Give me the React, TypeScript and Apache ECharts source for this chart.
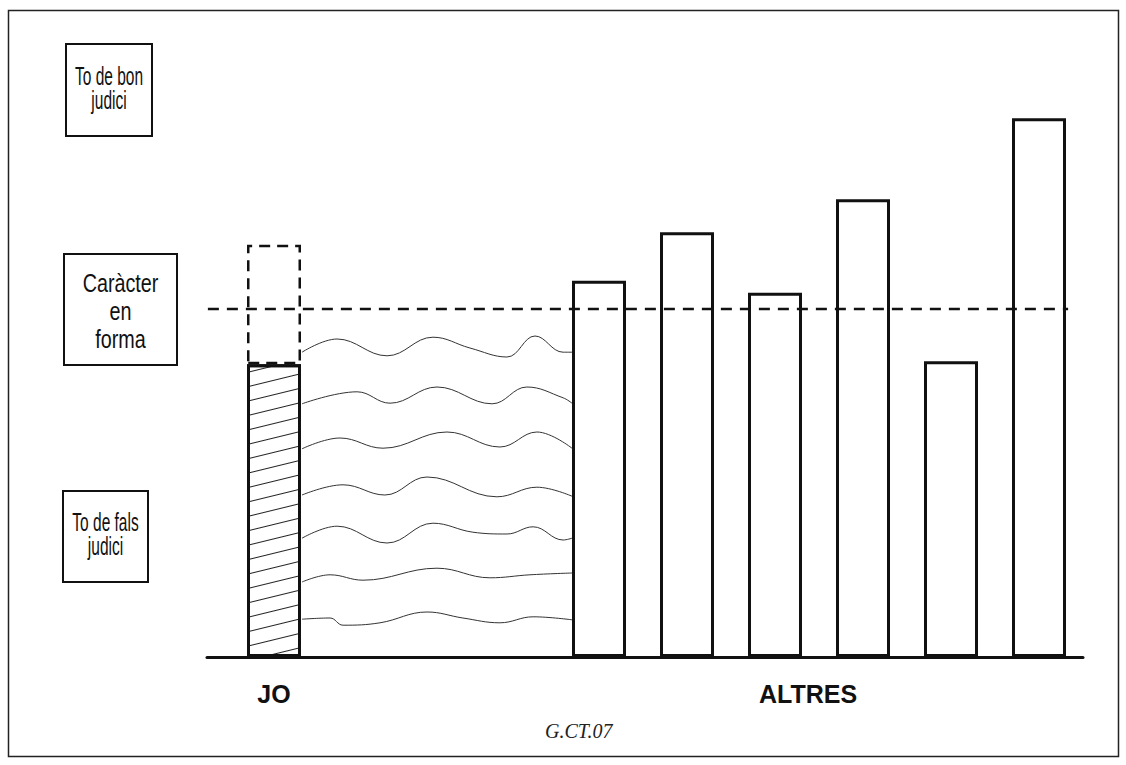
import React, { useEffect, useRef } from "react";
import * as echarts from "echarts";

// ---------- data ----------
const boxLabels = ["To de bon\njudici", "Caràcter\nen\nforma", "To de fals\njudici"];
const joCategory = ["JO"];
const joValue = [48.8];
const joIdeal = [68.7];
const altresCategories = ["A1", "A2", "A3", "A4", "A5", "A6"];
const altresValues = [62.7, 70.8, 60.7, 76.3, 49.3, 89.8];
const thresholdValue = 58;
const groupNames = ["JO", "ALTRES"];
const sourceNote = "G.CT.07";

// wavy "noise" lines between JO and ALTRES (x: 0..100 across the gap, y: same scale as bars)
const wave1 = [[0, 50.8], [13, 53.0], [31.5, 50.2], [48.5, 53.3], [62.2, 51.5], [75.9, 50.0], [86.3, 53.5], [96.7, 50.8], [100, 50.8]];
const wave2 = [[0, 42.2], [20.4, 44.2], [32.6, 42.3], [50, 45.0], [70.4, 42.2], [83.3, 45.0], [96.7, 43.2], [100, 42.3]];
const wave3 = [[0, 34.7], [14.1, 36.5], [30, 34.8], [53.7, 37.5], [73.3, 35.0], [87, 37.5], [100, 34.8]];
const wave4 = [[0, 27.0], [15.2, 28.7], [30.7, 27.0], [46.3, 30.0], [72.2, 26.7], [87, 28.3], [100, 26.8]];
const wave5 = [[0, 19.8], [13, 21.8], [31.5, 19.0], [48.5, 22.3], [63.3, 20.8], [75.9, 20.5], [85.6, 21.7], [96.7, 19.5], [100, 19.8]];
const wave6 = [[0, 12.5], [10.4, 13.7], [22.6, 12.8], [50, 14.8], [69.6, 13.2], [84.4, 13.7], [100, 14.0]];
const wave7 = [[0, 6.3], [10.4, 6.5], [15.2, 5.3], [28.9, 5.7], [46.3, 7.5], [59.6, 6.5], [73.3, 5.7], [85.6, 6.7], [100, 6.2]];
const waves = [wave1, wave2, wave3, wave4, wave5, wave6, wave7];

// ---------- layout ----------
const W = 1126;
const H = 765;
const TOP = 57;
const BOTTOM = 108;
const INK = "#111";
const SANS = "Liberation Sans, Arial, Helvetica, sans-serif";
const thresholdSpan = [0.1, 98.3];

function labelBox(x: number, y: number, w: number, h: number, text: string, fontSize: number, lineHeight: number, scaleX: number, cy: number) {
  return {
    type: "group",
    children: [
      { type: "rect", shape: { x, y, width: w, height: h }, style: { fill: "#fff", stroke: INK, lineWidth: 2 } },
      {
        type: "text",
        x: x + w / 2,
        y: cy,
        scaleX,
        style: {
          text,
          fontSize,
          lineHeight,
          fontFamily: SANS,
          fill: INK,
          align: "center",
          verticalAlign: "middle",
          textAlign: "center",
          textVerticalAlign: "middle",
        },
      },
    ],
  };
}

export default function App() {
  const ref = useRef<HTMLDivElement>(null);

  useEffect(() => {
    if (!ref.current) return;
    const chart = echarts.init(ref.current, null, { renderer: "svg" });

    const yHidden = (gridIndex: number) => ({ type: "value", gridIndex, min: 0, max: 100, show: false });

    const option: any = {
      animation: false,
      backgroundColor: "#fff",
      grid: [
        { left: 207, right: W - 1083, top: TOP, bottom: BOTTOM, containLabel: false },
        { left: 246, right: W - 302, top: TOP, bottom: BOTTOM, containLabel: false },
        { left: 555, right: W - 1083, top: TOP, bottom: BOTTOM, containLabel: false },
        { left: 302, right: W - 572, top: TOP, bottom: BOTTOM, containLabel: false },
      ],
      xAxis: [
        {
          type: "value",
          gridIndex: 0,
          min: 0,
          max: 100,
          axisLine: { show: true, lineStyle: { color: INK, width: 3 } },
          axisTick: { show: false },
          axisLabel: { show: false },
          splitLine: { show: false },
        },
        {
          type: "category",
          gridIndex: 1,
          data: joCategory,
          axisLine: { show: false },
          axisTick: { show: false },
          axisLabel: {
            show: true,
            formatter: () => groupNames[0],
            color: INK,
            fontFamily: SANS,
            fontWeight: "bold",
            fontSize: 25,
            lineHeight: 25,
            margin: 24,
          },
        },
        {
          type: "category",
          gridIndex: 2,
          data: altresCategories,
          axisLine: { show: false },
          axisTick: { show: false },
          axisLabel: { show: false },
          name: groupNames[1],
          nameLocation: "middle",
          nameGap: 24,
          nameTextStyle: {
            color: INK,
            fontFamily: SANS,
            fontWeight: "bold",
            fontSize: 25,
            lineHeight: 25,
            padding: [0, 22, 0, 0],
          },
        },
        { type: "value", gridIndex: 3, min: 0, max: 100, show: false },
      ],
      yAxis: [yHidden(0), yHidden(1), yHidden(2), yHidden(3)],
      title: {
        text: sourceNote,
        left: 540,
        top: 716,
        textStyle: { fontFamily: "Liberation Serif, Times New Roman, serif", fontStyle: "italic", fontWeight: "normal", fontSize: 20, color: "#222" },
      },
      graphic: [
        {
          type: "rect",
          silent: true,
          z: -10,
          shape: { x: 8.5, y: 10.5, width: 1110, height: 746 },
          style: { fill: "none", stroke: "#222", lineWidth: 1.5 },
        },
        labelBox(66, 44, 86, 92, boxLabels[0], 25, 24, 0.62, 88),
        labelBox(64, 254, 113, 111, boxLabels[1], 26, 28, 0.76, 311),
        labelBox(63, 491, 85, 91, boxLabels[2], 25, 24, 0.62, 534),
      ],
      series: [
        {
          type: "bar",
          name: "JO",
          xAxisIndex: 1,
          yAxisIndex: 1,
          stack: "jo",
          barWidth: 54,
          data: joValue,
          itemStyle: {
            color: "#fff",
            borderColor: INK,
            borderWidth: 3,
            decal: {
              symbol: "rect",
              symbolSize: 1,
              color: "#222",
              backgroundColor: "#fff",
              dashArrayX: [1, 0],
              dashArrayY: [1, 13],
              rotation: -0.24,
            },
          },
        },
        {
          type: "bar",
          name: "JO ideal",
          xAxisIndex: 1,
          yAxisIndex: 1,
          stack: "jo",
          barWidth: 54,
          data: joIdeal.map((v, i) => v - joValue[i]),
          itemStyle: { color: "rgba(0,0,0,0)", borderColor: INK, borderWidth: 2.5, borderType: [11, 7] },
        },
        ...waves.map((w, i) => ({
          type: "line",
          name: "wave" + (i + 1),
          xAxisIndex: 3,
          yAxisIndex: 3,
          data: w,
          smooth: 0.4,
          symbol: "none",
          lineStyle: { color: "#333", width: 1 },
        })),
        {
          type: "bar",
          name: "ALTRES",
          xAxisIndex: 2,
          yAxisIndex: 2,
          barWidth: 54,
          data: altresValues,
          itemStyle: { color: "#fff", borderColor: INK, borderWidth: 3 },
        },
        {
          type: "line",
          name: "threshold",
          xAxisIndex: 0,
          yAxisIndex: 0,
          z: 5,
          data: thresholdSpan.map((x) => [x, thresholdValue]),
          symbol: "none",
          lineStyle: { color: INK, width: 2.5, type: [11, 8] },
        },
      ],
    };

    chart.setOption(option);
    return () => chart.dispose();
  }, []);

  return (
    <div
      ref={ref}
      style={{ position: "fixed", left: 0, top: 0, width: W, height: H, background: "#fff" }}
    />
  );
}
